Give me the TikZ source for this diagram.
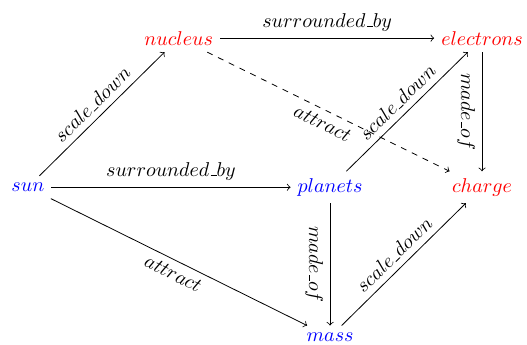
\documentclass[tikz,border=0pt]{standalone}
\usepackage{amsmath}
\usetikzlibrary{arrows,positioning}
\newcommand{\us}{\kern.06em\vbox{\hrule width.3em}}
\begin{document}
\begin{tikzpicture}[
        planet/.style={text=blue},
        atom/.style={text=red},
        rel/.style={->},
        lbl/.style={midway, sloped, text=black}]
            \useasboundingbox (-0.49,-2.77) rectangle (8.77,3.29);
            % solar system side
            \node[planet] (sun) at (0,0) {$sun$};
            \node[planet] (planets) at (5.31,0) {$planets$};
            \node[planet] (mass) at (5.31,-2.63) {$mass$};
            % atom side
            \node[atom] (nucleus) at (2.65,2.62) {$nucleus$};
            \node[atom] (electrons) at (7.98,2.62) {$electrons$};
            \node[atom] (charge) at (7.98,0) {$charge$};
            \draw[rel] (sun) -- (planets) node[lbl, above] {$surrounded\us by$};
            \draw[rel] (nucleus) -- (electrons) node[lbl, above] {$surrounded\us by$};
            \draw[rel] (sun) -- (nucleus) node[lbl, above] {$scale\us down$};
            \draw[rel] (planets) -- (electrons) node[lbl, above] {$scale\us down$};
            \draw[rel] (mass) -- (charge) node[lbl, above] {$scale\us down$};
            \draw[rel] (planets) -- (mass) node[lbl, below] {$made\us of$};
            \draw[rel] (electrons) -- (charge) node[lbl, below] {$made\us of$};
            \draw[rel] (sun) -- (mass) node[lbl, below] {$attract$};
            \draw[rel, dashed] (nucleus) -- (charge) node[lbl, below] {$attract$};
        \end{tikzpicture}
\end{document}
